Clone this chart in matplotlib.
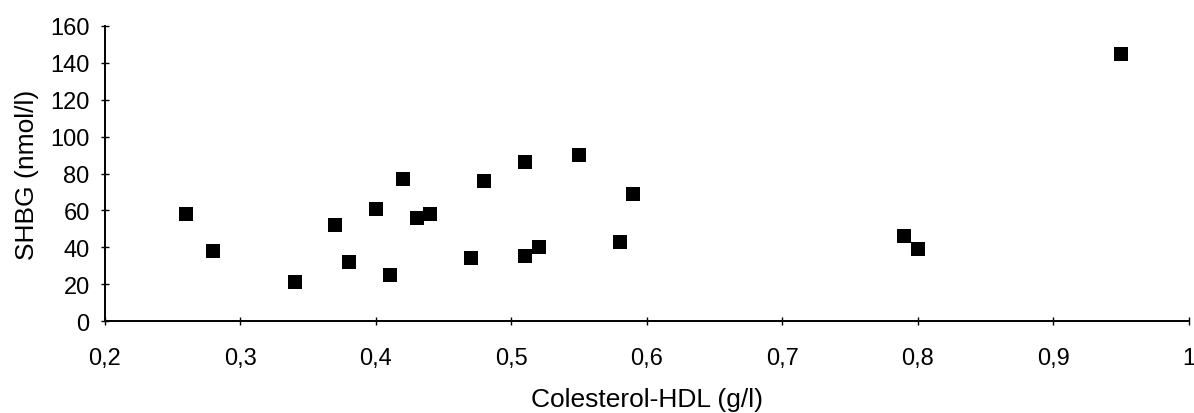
import matplotlib
matplotlib.use("Agg")
import matplotlib.pyplot as plt
from matplotlib.ticker import FuncFormatter

# Colesterol-HDL (g/l) vs SHBG (nmol/l)
colesterol_hdl = [0.26, 0.28, 0.34, 0.37, 0.38, 0.40, 0.41, 0.42, 0.43, 0.44, 0.47,
                  0.48, 0.51, 0.51, 0.52, 0.55, 0.58, 0.59, 0.79, 0.80, 0.95]
shbg = [58, 38, 21, 52, 32, 61, 25, 77, 56, 58, 34,
        76, 86, 35, 40, 90, 43, 69, 46, 39, 145]

x_ticks = [0.2, 0.3, 0.4, 0.5, 0.6, 0.7, 0.8, 0.9, 1.0]
y_ticks = [0, 20, 40, 60, 80, 100, 120, 140, 160]

plt.rcParams['font.family'] = ['Liberation Sans', 'DejaVu Sans']

fig = plt.figure(figsize=(11.94, 4.14), dpi=100)
ax = fig.add_axes([0.0879, 0.2222, 0.9079, 0.7126])

ax.scatter(colesterol_hdl, shbg, marker='s', s=100, color='black', linewidths=0, clip_on=False)

ax.set_xlim(0.2, 1.0)
ax.set_ylim(0, 160)
ax.set_xticks(x_ticks)
ax.set_yticks(y_ticks)

# etykiety z przecinkiem dziesiętnym
def fmt_x(v, pos):
    if abs(v - round(v)) < 1e-9:
        return str(int(round(v)))
    return f"{v:.1f}".replace('.', ',')

ax.xaxis.set_major_formatter(FuncFormatter(fmt_x))

for side in ['top', 'right']:
    ax.spines[side].set_visible(False)
for side in ['left', 'bottom']:
    ax.spines[side].set_linewidth(1.4)

ax.tick_params(axis='both', direction='inout', length=6, width=1.0, labelsize=17)
ax.tick_params(axis='x', pad=15.5)
ax.tick_params(axis='y', pad=8)

ax.set_xlabel("Colesterol-HDL (g/l)", fontsize=19, labelpad=13)
ax.set_ylabel("SHBG (nmol/l)", fontsize=19, labelpad=8)

fig.savefig("out.png", dpi=100)
